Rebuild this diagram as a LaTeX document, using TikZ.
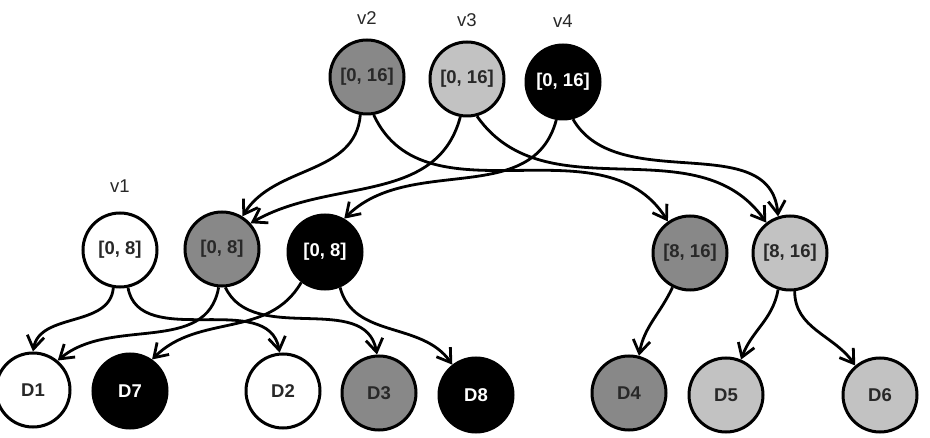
\documentclass[tikz,border=0pt]{standalone}
\usepackage{fontspec}
\setmainfont{Liberation Sans}
\usetikzlibrary{arrows.meta}
\definecolor{dgray}{RGB}{136,136,136}
\definecolor{lgray}{RGB}{194,194,194}
\definecolor{tgray}{RGB}{40,40,40}
\begin{document}
\begin{tikzpicture}[x=1pt,y=1pt,
  nd/.style={circle,draw=black,line width=3pt,minimum size=74pt,inner sep=0pt,
    text=tgray,font=\fontsize{18.5}{21}\selectfont\bfseries},
  wnd/.style={nd,fill=white},
  dnd/.style={nd,fill=dgray},
  lnd/.style={nd,fill=lgray},
  bnd/.style={nd,fill=black,text=white},
  lbl/.style={font=\fontsize{18.5}{21}\selectfont,text=tgray},
  ed/.style={line width=2.8pt,-{Straight Barb[length=13pt,width=17pt]}}]
\useasboundingbox (0,0) rectangle (930,-438);
% top
\node[dnd] (v2) at (367,-77) {[0, 16]};
\node[lnd] (v3) at (467,-79) {[0, 16]};
\node[bnd] (v4) at (563,-82) {[0, 16]};
\node[lbl] (l2) at (367,-18) {v2};
\node[lbl] (l3) at (467,-20) {v3};
\node[lbl] (l4) at (563,-21) {v4};
% middle
\node[wnd] (v1) at (120,-250) {[0, 8]};
\node[lbl] (l1) at (120,-186) {v1};
\node[dnd] (m2) at (222,-249) {[0, 8]};
\node[bnd] (m4) at (325,-252) {[0, 8]};
\node[dnd] (r2) at (690,-253) {[8, 16]};
\node[lnd] (r3) at (790,-253) {[8, 16]};
% bottom
\node[wnd] (D1) at (33,-390) {D1};
\node[bnd] (D7) at (130,-391) {D7};
\node[wnd] (D2) at (283,-391) {D2};
\node[dnd] (D3) at (379,-393) {D3};
\node[bnd] (D8) at (476,-395) {D8};
\node[dnd] (D4) at (629,-393) {D4};
\node[lnd] (D5) at (726,-395) {D5};
\node[lnd] (D6) at (880,-395) {D6};
% top edges
\draw[ed] (v2.-100) to[out=-95,in=58] (m2.58);
\draw[ed] (v3.-100) to[out=-105,in=30] (m2.42);
\draw[ed] (v4.-100) to[out=-105,in=45] (m4.60);
\draw[ed] (v2.-80) to[out=-65,in=122] (r2.125);
\draw[ed] (v3.-75) to[out=-55,in=125] (r3.128);
\draw[ed] (v4.-75) to[out=-60,in=95] (r3.108);
% bottom edges
\draw[ed] (v1.-100) to[out=-95,in=80] (D1.90);
\draw[ed] (v1.-78) to[out=-80,in=100] (D2.95);
\draw[ed] (m2.-95) to[out=-100,in=40] (D1.50);
\draw[ed] (m2.-85) to[out=-65,in=100] (D3.93);
\draw[ed] (m4.-128) to[out=-120,in=45] (D7.55);
\draw[ed] (m4.-67) to[out=-75,in=125] (D8.128);
\draw[ed] (r2.-117) to[out=-115,in=80] (D4.75);
\draw[ed] (r3.-108) to[out=-100,in=70] (D5.67);
\draw[ed] (r3.-83) to[out=-90,in=125] (D6.130);
\end{tikzpicture}
\end{document}
